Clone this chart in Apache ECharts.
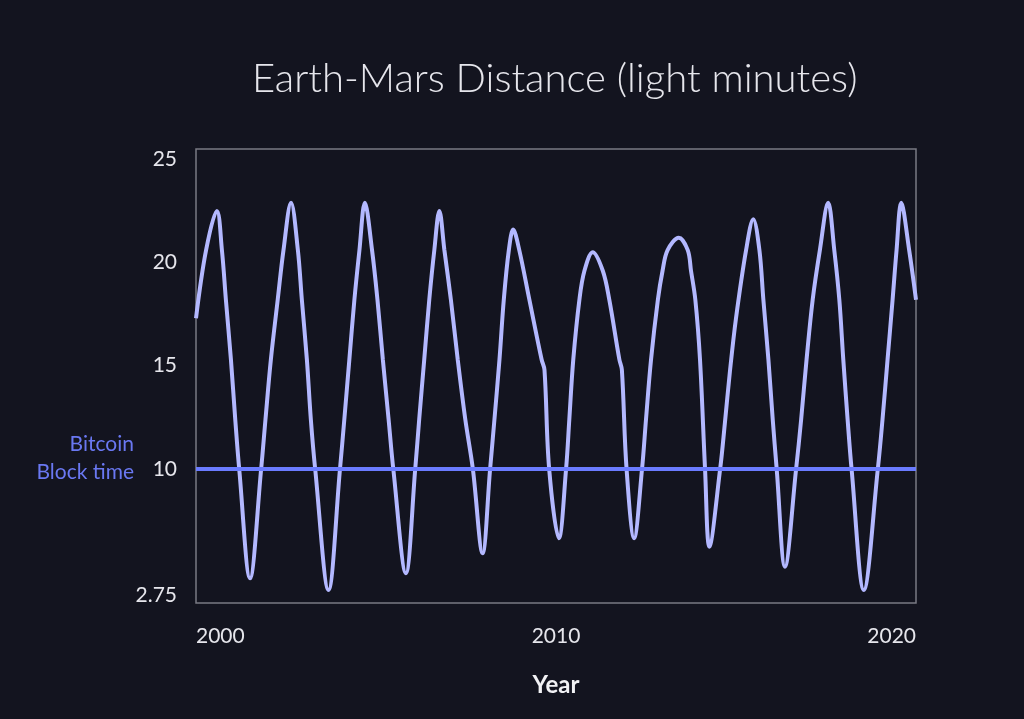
<!DOCTYPE html>
<html>
<head>
<meta charset="utf-8">
<title>Earth-Mars Distance</title>
<script src="https://cdn.jsdelivr.net/npm/echarts@6/dist/echarts.min.js"></script>
<style>
  html, body { margin: 0; padding: 0; background: #13141f; }
  #chart { width: 1024px; height: 719px; }
</style>
</head>
<body>
<div id="chart"></div>
<script>
// decimal years
var years = [
  2000.00, 2000.28, 2000.58, 2000.72, 2000.83, 2000.97, 2001.09, 2001.20,
  2001.50, 2001.81, 2001.93, 2002.08, 2002.27, 2002.43, 2002.64, 2002.83,
  2002.94, 2003.08, 2003.19, 2003.31, 2003.68, 2004.00, 2004.12, 2004.26,
  2004.40, 2004.54, 2004.69, 2004.89, 2005.04, 2005.19, 2005.35, 2005.48,
  2005.83, 2006.09, 2006.20, 2006.34, 2006.48, 2006.62, 2006.76, 2006.90,
  2007.08, 2007.27, 2007.48, 2007.69, 2007.96, 2008.17, 2008.29, 2008.43,
  2008.55, 2008.69, 2008.81, 2008.98, 2009.26, 2009.60, 2009.68, 2009.81,
  2010.08, 2010.28, 2010.37, 2010.48, 2010.65, 2010.79, 2011.02, 2011.30,
  2011.48, 2011.76, 2011.83, 2011.96, 2012.17, 2012.39, 2012.50, 2012.64,
  2012.83, 2012.96, 2013.10, 2013.41, 2013.66, 2013.75, 2013.87, 2014.00,
  2014.14, 2014.26, 2014.56, 2014.69, 2014.83, 2015.00, 2015.28, 2015.48,
  2015.65, 2015.76, 2015.90, 2016.02, 2016.13, 2016.36, 2016.67, 2016.81,
  2016.96, 2017.13, 2017.33, 2017.56, 2017.73, 2017.87, 2017.98, 2018.10,
  2018.21, 2018.55, 2018.94, 2019.07, 2019.21, 2019.35, 2019.46, 2019.59,
  2019.81, 2020.00
];
// distance in light minutes
var distance = [
  17.3, 20.6, 22.5, 20.6, 18.2, 15.3, 12.4, 10.0,
  4.7, 10.0, 12.4, 15.3, 18.2, 20.6, 22.9, 20.6,
  18.2, 15.3, 12.4, 10.0, 4.13, 10.0, 12.4, 15.3,
  18.2, 20.6, 22.9, 20.6, 18.2, 15.3, 12.4, 10.0,
  4.94, 10.0, 12.4, 15.3, 18.2, 20.6, 22.5, 20.6,
  18.2, 15.3, 12.4, 10.0, 5.91, 10.0, 12.4, 15.3,
  18.2, 20.6, 21.6, 20.6, 18.2, 15.3, 14.8, 10.0,
  6.64, 10.0, 12.4, 15.3, 18.2, 19.6, 20.5, 19.6,
  18.2, 15.3, 14.8, 10.0, 6.64, 10.0, 12.4, 15.3,
  18.2, 19.6, 20.6, 21.2, 20.6, 19.6, 18.2, 15.3,
  10.0, 6.23, 10.0, 12.2, 14.7, 17.3, 20.6, 22.1,
  20.6, 18.2, 15.3, 12.4, 10.0, 5.26, 10.0, 12.4,
  15.3, 18.2, 20.6, 22.9, 20.6, 18.2, 15.3, 12.4,
  10.0, 4.13, 10.0, 12.4, 15.3, 18.2, 20.6, 22.9,
  20.6, 18.2
];
var blockTime = 10;

var yTickValues = [3.9, 10, 15, 20, 25];
var yTickLabels = ['2.75', '10', '15', '20', '25'];

var chart = echarts.init(document.getElementById('chart'));

var points = years.map(function (y, i) { return [y, distance[i]]; });

var option = {
  backgroundColor: '#13141f',
  animation: false,
  title: {
    text: 'Earth-Mars Distance (light minutes)',
    left: 247,
    top: 54,
    textStyle: {
      color: '#e6e6ec',
      fontFamily: 'Lato',
      fontWeight: 300,
      fontSize: 40
    }
  },
  grid: {
    left: 196,
    right: 108,
    top: 149,
    bottom: 116,
    show: true,
    borderColor: '#7a7a84',
    borderWidth: 1.5
  },
  xAxis: {
    type: 'value',
    min: 2000,
    max: 2020,
    interval: 10,
    name: 'Year',
    nameLocation: 'middle',
    nameGap: 70,
    nameTextStyle: {
      color: '#f2f2f5',
      fontFamily: 'Lato',
      fontWeight: 'bold',
      fontSize: 24
    },
    axisLine: { show: false },
    axisTick: { show: false },
    splitLine: { show: false },
    axisLabel: {
      color: '#e6e6ec',
      fontFamily: 'Lato',
      fontSize: 21,
      margin: 23,
      alignMinLabel: 'left',
      alignMaxLabel: 'right',
      formatter: function (v) { return String(v); }
    }
  },
  yAxis: {
    type: 'value',
    min: 3.5,
    max: 25.5,
    axisLine: { show: false },
    axisTick: { show: false },
    splitLine: { show: false },
    axisLabel: {
      color: '#e6e6ec',
      fontFamily: 'Lato',
      fontSize: 21,
      margin: 19,
      customValues: yTickValues,
      formatter: function (v) {
        var i = yTickValues.indexOf(v);
        return i >= 0 ? yTickLabels[i] : '';
      }
    }
  },
  series: [
    {
      name: 'Earth-Mars distance',
      type: 'line',
      data: points,
      smooth: 0.35,
      showSymbol: false,
      clip: true,
      lineStyle: { color: '#b3b8ff', width: 4 },
      markLine: {
        silent: true,
        symbol: ['none', 'none'],
        data: [{ yAxis: blockTime }],
        lineStyle: { color: '#6a7bff', width: 4, type: 'solid' },
        label: {
          show: true,
          position: 'start',
          // short empty last line lifts the text so "Block time" sits on the 10 line
          formatter: '{a|Bitcoin}\n{a|Block time}\n{e| }',
          align: 'right',
          distance: 62,
          rich: {
            a: {
              color: '#6a78f2',
              fontFamily: 'Lato',
              fontSize: 21,
              lineHeight: 28,
              align: 'right'
            },
            e: { fontSize: 10, lineHeight: 22 }
          }
        }
      }
    }
  ]
};

chart.setOption(option);
</script>
</body>
</html>
